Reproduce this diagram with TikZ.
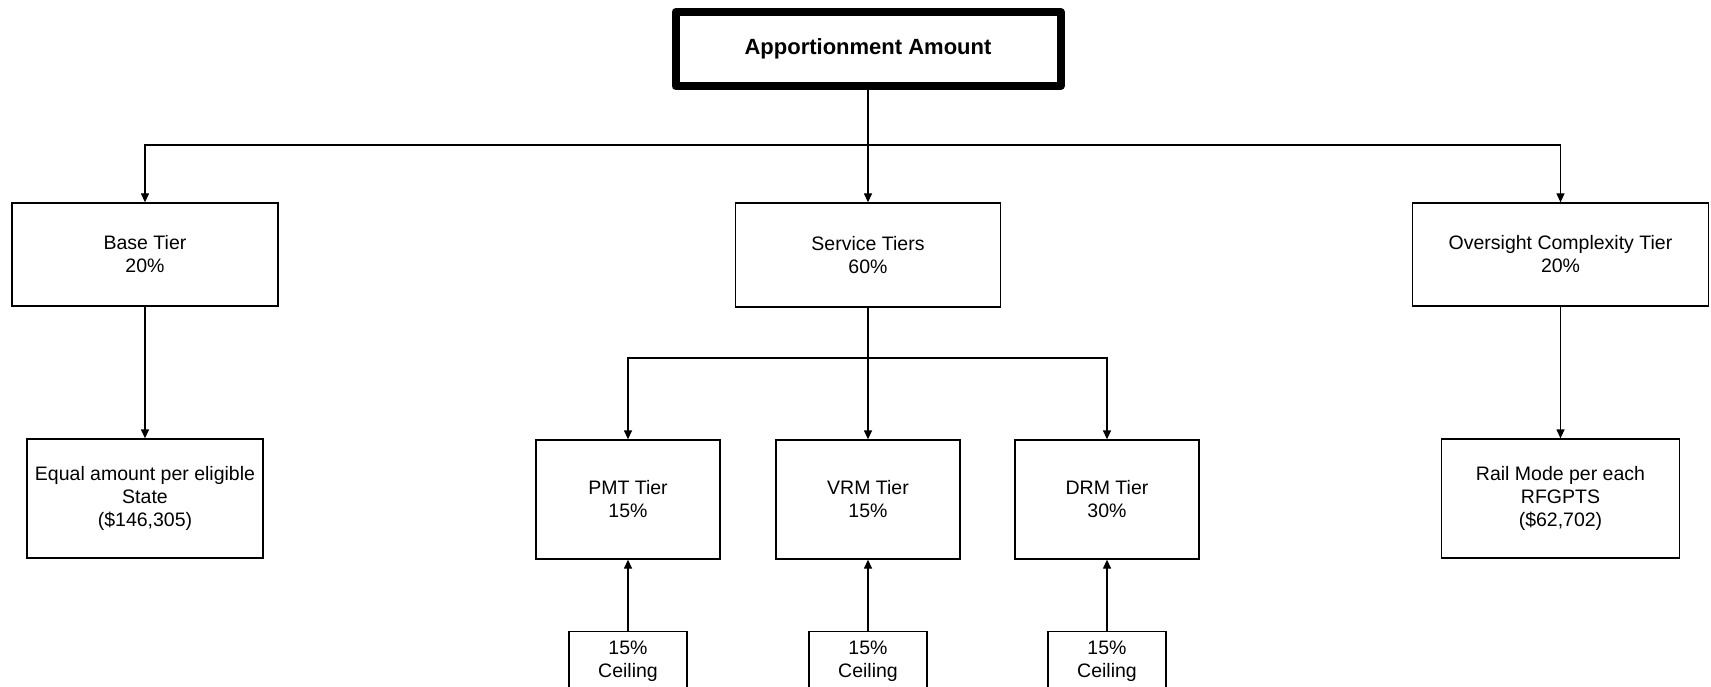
\documentclass[tikz,border=0pt]{standalone}
\usepackage{fontspec}
\setmainfont{Liberation Sans}
\usetikzlibrary{arrows.meta}
\begin{document}
\begin{tikzpicture}[x=1pt,y=-1pt,
  box/.style={draw, line width=1.3pt, align=center, inner sep=0pt,
    font=\fontsize{19.5}{23}\selectfont},
  titlebox/.style={draw, line width=8pt, line join=round, align=center,
    minimum width=385pt, minimum height=74pt, inner sep=0pt,
    font=\bfseries\fontsize{22}{26}\selectfont},
  cbox/.style={draw, line width=1.3pt, align=center, anchor=north,
    minimum width=118pt, inner xsep=0pt, inner ysep=9pt,
    font=\fontsize{19.5}{23}\selectfont},
  conn/.style={line width=1.3pt},
  arr/.style={conn, -{Triangle[length=9pt,width=8pt]}}]
\useasboundingbox (0,0) rectangle (1711,687);
\fill[white] (0,0) rectangle (1711,687);

\node[titlebox] (top) at (868,49) {Apportionment Amount};

\node[box, minimum width=266pt, minimum height=103pt] (base) at (145,254.5) {Base Tier\\20\%};
\node[box, minimum width=265pt, minimum height=104pt] (service) at (868,255) {Service Tiers\\60\%};
\node[box, minimum width=296pt, minimum height=103pt] (over) at (1560.5,254.5) {Oversight Complexity Tier\\20\%};

\node[box, minimum width=236pt, minimum height=119pt] (equal) at (145,498.5) {Equal amount per eligible\\State\\(\$146,305)};
\node[box, minimum width=238pt, minimum height=119pt] (rail) at (1560.5,498.5) {Rail Mode per each\\RFGPTS\\(\$62,702)};

\node[box, minimum width=184pt, minimum height=119pt] (pmt) at (628,499.5) {PMT Tier\\15\%};
\node[box, minimum width=184pt, minimum height=119pt] (vrm) at (868,499.5) {VRM Tier\\15\%};
\node[box, minimum width=184pt, minimum height=119pt] (drm) at (1107,499.5) {DRM Tier\\30\%};

\node[cbox] (c1) at (628,631) {15\%\\Ceiling};
\node[cbox] (c2) at (868,631) {15\%\\Ceiling};
\node[cbox] (c3) at (1107,631) {15\%\\Ceiling};

\coordinate (bus1) at (0,145);
\coordinate (bus2) at (0,358);

\draw[arr] (top.south) -- (top.south |- bus1) -| (base.north);
\draw[arr] (top.south |- bus1) -| (over.north);
\draw[arr] (top.south) -- (service.north);

\draw[arr] (base.south) -- (equal.north);
\draw[arr] (over.south) -- (rail.north);

\draw[arr] (service.south) -- (service.south |- bus2) -| (pmt.north);
\draw[arr] (service.south |- bus2) -| (drm.north);
\draw[arr] (service.south) -- (vrm.north);

\draw[arr] (c1.north) -- (pmt.south);
\draw[arr] (c2.north) -- (vrm.south);
\draw[arr] (c3.north) -- (drm.south);
\end{tikzpicture}
\end{document}
